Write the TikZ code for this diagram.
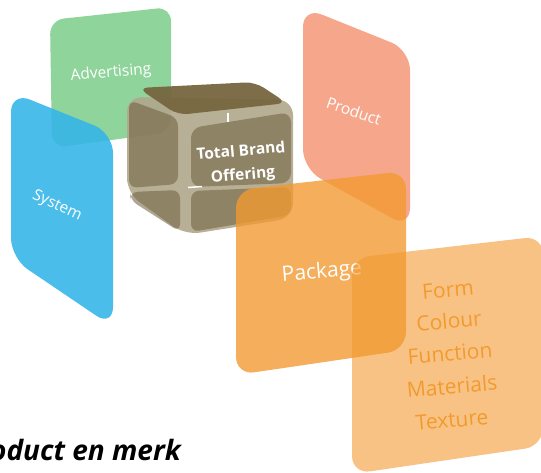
\documentclass[tikz,border=0pt]{standalone}
\usepackage{fontspec}
\setmainfont{Open Sans}
\begin{document}
\begin{tikzpicture}[x=1pt,y=-1pt,
  lbl/.style={text=white,font=\fontsize{15.5}{17}\selectfont,inner sep=0pt},
  cubepanel/.style={fill=cubedark,fill opacity=0.55,draw=none},
  formtxt/.style={text=formtext,font=\fontsize{21}{23}\selectfont,inner sep=0pt,rotate=5}]
\definecolor{advgreen}{HTML}{73CA82}
\definecolor{sysblue}{HTML}{37B6E8}
\definecolor{prodsalmon}{HTML}{F4906D}
\definecolor{pkgorange}{HTML}{F29A32}
\definecolor{cubebody}{HTML}{B0A68C}
\definecolor{cubedark}{HTML}{6E5F3E}
\definecolor{cubetop}{HTML}{76663F}
\definecolor{formtext}{HTML}{F39A2E}
\useasboundingbox (0,0) rectangle (541,472);
\clip (0,0) rectangle (541,472);
% Advertising panel
\fill[advgreen,opacity=0.8,rounded corners=14pt] (50,20) -- (171,7) -- (171,132) -- (52,148) -- cycle;
\node[lbl,rotate=5] (adv) at (111,73) {Advertising};
% System panel
\fill[sysblue,opacity=0.9,rounded corners=20pt] (11,92) -- (113,133) -- (113,327) -- (11,258) -- cycle;
\node[lbl,rotate=-25] (sys) at (57,206) {System};
% Cube
\fill[cubebody,opacity=0.9,rounded corners=15pt] (127,97) -- (293,100) -- (293,218) -- (185,235) -- (127,193) -- cycle;
\fill[cubepanel,rounded corners=8pt] (129,100) -- (178,118) -- (178,184) -- (129,188) -- cycle;
\fill[cubepanel,rounded corners=8pt] (130,192) -- (180,190) -- (180,232) -- (130,200) -- cycle;
\fill[cubepanel,rounded corners=10pt] (191,128) -- (291,112) -- (291,183) -- (191,187) -- cycle;
\fill[cubepanel,rounded corners=8pt] (191,191) -- (291,187) -- (291,215) -- (191,232) -- cycle;
\fill[cubetop,opacity=0.95,rounded corners=10pt] (138,88) -- (255,82) -- (287,103) -- (178,115) -- cycle;
\draw[white,line width=1.5pt] (228,113) -- (228,122);
\draw[white,line width=1.5pt] (188,187.5) -- (202,186.5);
\node[text=white,font=\bfseries\fontsize{15.5}{24}\selectfont,align=center,rotate=5,inner sep=0pt] (tbo) at (242,164) {Total Brand\\Offering};
% Product panel
\fill[prodsalmon,opacity=0.8,rounded corners=20pt] (303,7) -- (410,50) -- (410,228) -- (303,169) -- cycle;
\node[lbl,rotate=-19] (prod) at (354,111) {Product};
% Package panel
\fill[pkgorange,opacity=0.8,rounded corners=18pt] (236,190) -- (406,171) -- (406,350) -- (236,375) -- cycle;
\node[text=white,font=\fontsize{21}{23}\selectfont,inner sep=0pt,rotate=5] (pkg) at (322,273) {Package};
% Form panel
\fill[pkgorange,opacity=0.6,rounded corners=18pt] (352,258) -- (543,236) -- (543,446) -- (352,474) -- cycle;
\node[formtxt] (form) at (448,290) {Form};
\node[formtxt] (colour) at (449,321) {Colour};
\node[formtxt] (function) at (450,353) {Function};
\node[formtxt] (materials) at (452,386) {Materials};
\node[formtxt] (texture) at (452,420) {Texture};
% Caption
\node[anchor=base east,font=\bfseries\itshape\fontsize{28}{30}\selectfont,inner sep=0pt] (cap) at (181,460) {Product en merk};
\end{tikzpicture}
\end{document}
